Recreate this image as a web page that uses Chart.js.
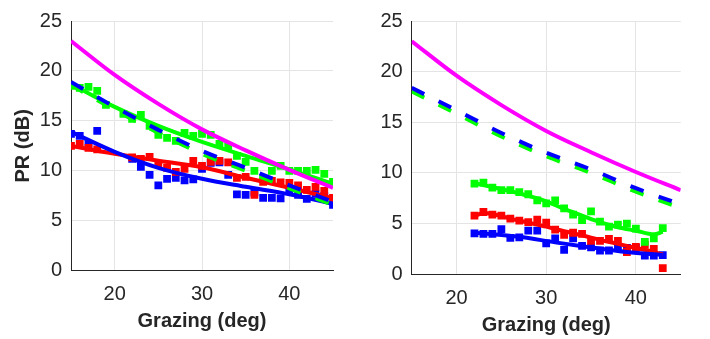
<!DOCTYPE html>
<html><head><meta charset="utf-8">
<script src="https://cdn.jsdelivr.net/npm/chart.js@4.4.1/dist/chart.umd.min.js"></script>
<style>
html,body{margin:0;padding:0;background:#fff;width:710px;height:339px;overflow:hidden}
#c1{position:absolute;left:0;top:0}
#c2{position:absolute;left:360px;top:0}
</style></head><body>
<canvas id="c1" width="360" height="339"></canvas>
<canvas id="c2" width="350" height="339"></canvas>
<script>
// ---------- tick labels ----------
const xTickValues = [20, 30, 40];
const yTickValues = [0, 5, 10, 15, 20, 25];

// ---------- left panel: measured points ----------
const grazingLeft = [15,16,17,18,19,20,21,22,23,24,25,26,27,28,29,30,31,32,33,34,35,36,37,38,39,40,41,42,43,44,45];
const greenLeft = [18.5,18.3,18.4,18.0,16.6,null,15.7,15.2,15.6,14.5,13.6,13.3,13.0,13.8,13.5,13.7,13.6,12.7,12.5,11.5,10.9,10.0,9.3,10.0,10.5,10.0,10.0,10.0,10.1,9.7,8.9];
const redLeft   = [12.5,12.7,12.3,12.15,null,null,null,11.35,11.2,11.4,10.7,10.3,9.9,10.2,11.0,10.5,10.9,11.0,10.85,9.3,9.4,7.6,8.9,9.0,8.85,8.8,8.55,8.1,8.4,8.0,7.3];
const blueLeft  = [13.7,13.5,12.7,14.0,null,null,null,11.2,10.4,9.6,8.55,9.2,9.3,9.05,9.15,10.2,10.8,10.85,9.6,7.65,7.6,7.85,7.3,7.3,7.25,8.0,7.6,7.2,7.7,7.5,6.6];

// ---------- left panel: fitted / model curves ----------
const curveX = [15,20,25,30,35,40,45];
const magentaCurve   = [23.0,19.6,16.7,14.15,12.05,10.1,8.3];
const blueDashLeft   = [18.9,16.4,14.1,12.0,10.3,8.55,6.9];
const greenDashLeft  = [18.6,16.1,13.8,11.7,10.0,8.25,6.6];
const greenFitLeft   = [18.7,16.4,14.5,12.9,11.5,10.15,8.7];
const redFitLeft     = [12.5,11.7,11.0,10.35,9.3,8.3,7.25];
const blueFitLeft    = [13.9,11.9,10.3,9.2,8.4,7.65,6.7];

// ---------- right panel: measured points ----------
const grazingRight = [22,23,24,25,26,27,28,29,30,31,32,33,34,35,36,37,38,39,40,41,42,43];
const greenRight = [8.95,9.05,8.55,8.3,8.3,8.1,7.9,7.3,7.0,7.3,6.5,5.9,5.35,6.2,5.2,4.7,4.9,5.0,4.5,3.2,3.55,4.55];
const redRight   = [5.8,6.15,5.9,5.8,5.5,5.3,5.15,5.4,5.1,4.4,3.9,4.1,4.0,3.3,3.3,3.5,3.3,2.2,2.7,2.9,2.5,0.6];
const blueRight  = [4.05,4.0,4.0,4.45,3.6,3.65,4.3,4.3,3.05,3.55,2.4,3.55,2.8,2.65,2.35,2.35,2.6,2.6,2.6,1.85,1.85,1.9];

// ---------- right panel: fitted / model curves ----------
const blueDashRight  = [18.4,16.2,13.95,12.0,10.35,8.5,6.9];
const greenDashRight = [18.05,15.85,13.6,11.65,10.0,8.15,6.55];
const greenFitRightX = [22,24,26,28,30,32,34,36,38,40,42,43];
const greenFitRight  = [9.0,8.6,8.2,7.75,7.2,6.45,5.8,5.15,4.65,4.3,3.95,4.2];
const redFitRightX   = [22,23,24,26,28,30,32,34,36,38,40,42,43];
const redFitRight    = [5.75,6.05,5.95,5.5,5.1,4.7,4.25,3.85,3.4,3.0,2.6,2.2,1.95];
const blueFitRightX  = [22,27,31,35,39,43];
const blueFitRight   = [4.1,3.7,3.15,2.65,2.2,1.9];

const FONT = '"Liberation Sans", Arial, Helvetica, sans-serif';
const INK = '#262626';
const GREEN = '#00ff00', RED = '#ff0000', BLUE = '#0000ff', MAGENTA = '#ff00ff';

function pts(xs, ys) {
  return xs.map((x, i) => ({x: x, y: ys[i]})).filter(p => p.y !== null);
}
function squares(xs, ys, color) {
  return {type: 'line', data: pts(xs, ys), showLine: false, order: 10,
    pointStyle: 'rect', pointRadius: 5.5, pointBorderWidth: 0,
    pointBackgroundColor: color, borderColor: color, backgroundColor: color};
}
function curve(xs, ys, color, order, dash) {
  return {type: 'line', data: pts(xs, ys), order: order, borderColor: color,
    borderWidth: 4, pointRadius: 0, fill: false, cubicInterpolationMode: 'monotone',
    borderDash: dash || [], borderCapStyle: 'butt'};
}

function makeOptions(cfg) {
  return {
    responsive: false, animation: false, devicePixelRatio: 1,
    layout: {padding: {left: 0, right: cfg.padRight, top: 16, bottom: 0}},
    plugins: {legend: {display: false}, tooltip: {enabled: false}},
    scales: {
      x: {
        type: 'linear', min: 15, max: 45,
        afterBuildTicks: s => { s.ticks = xTickValues.map(v => ({value: v})); },
        afterFit: s => { s.height = cfg.xAxisH; },
        grid: {color: '#e4e4e4', lineWidth: 1, drawTicks: false},
        border: {color: INK, width: 1},
        ticks: {padding: cfg.xTickPad, color: INK, font: {family: FONT, size: 20}, maxRotation: 0},
        title: {display: true, text: 'Grazing (deg)', color: INK,
          font: {family: FONT, size: 20, weight: 'bold'}, padding: {top: 0, bottom: cfg.xTitlePad}}
      },
      y: {
        type: 'linear', min: 0, max: 25,
        afterBuildTicks: s => { s.ticks = yTickValues.map(v => ({value: v})); },
        afterFit: s => { s.width = cfg.yAxisW; },
        grid: {color: '#e4e4e4', lineWidth: 1, drawTicks: false},
        border: {color: INK, width: 1},
        ticks: {padding: 9, color: INK, font: {family: FONT, size: 20}},
        title: {display: cfg.yTitle, text: 'PR (dB)', color: INK,
          font: {family: FONT, size: 20, weight: 'bold'}, padding: {top: 11, bottom: 0}}
      }
    }
  };
}

new Chart(document.getElementById('c1'), {
  type: 'line',
  data: {datasets: [
    squares(grazingLeft, greenLeft, GREEN),
    squares(grazingLeft, redLeft, RED),
    squares(grazingLeft, blueLeft, BLUE),
    curve(curveX, redFitLeft, RED, 6),
    curve(curveX, greenFitLeft, GREEN, 5),
    curve(curveX, blueFitLeft, BLUE, 5),
    curve(curveX, greenDashLeft, GREEN, 3, [14, 16]),
    curve(curveX, blueDashLeft, BLUE, 2, [14, 16]),
    curve(curveX, magentaCurve, MAGENTA, 1)
  ]},
  options: makeOptions({padRight: 27, xAxisH: 68.3, xTickPad: 11.3, xTitlePad: 5.3, yAxisW: 71, yTitle: true})
});

new Chart(document.getElementById('c2'), {
  type: 'line',
  data: {datasets: [
    squares(grazingRight, greenRight, GREEN),
    squares(grazingRight, redRight, RED),
    squares(grazingRight, blueRight, BLUE),
    curve(redFitRightX, redFitRight, RED, 6),
    curve(greenFitRightX, greenFitRight, GREEN, 5),
    curve(blueFitRightX, blueFitRight, BLUE, 5),
    curve(curveX, greenDashRight, GREEN, 3, [14, 16]),
    curve(curveX, blueDashRight, BLUE, 2, [14, 16]),
    curve(curveX, magentaCurve, MAGENTA, 1)
  ]},
  options: makeOptions({padRight: 29.3, xAxisH: 64.7, xTickPad: 11.7, xTitlePad: 2, yAxisW: 51.7, yTitle: false})
});
</script>
</body></html>
